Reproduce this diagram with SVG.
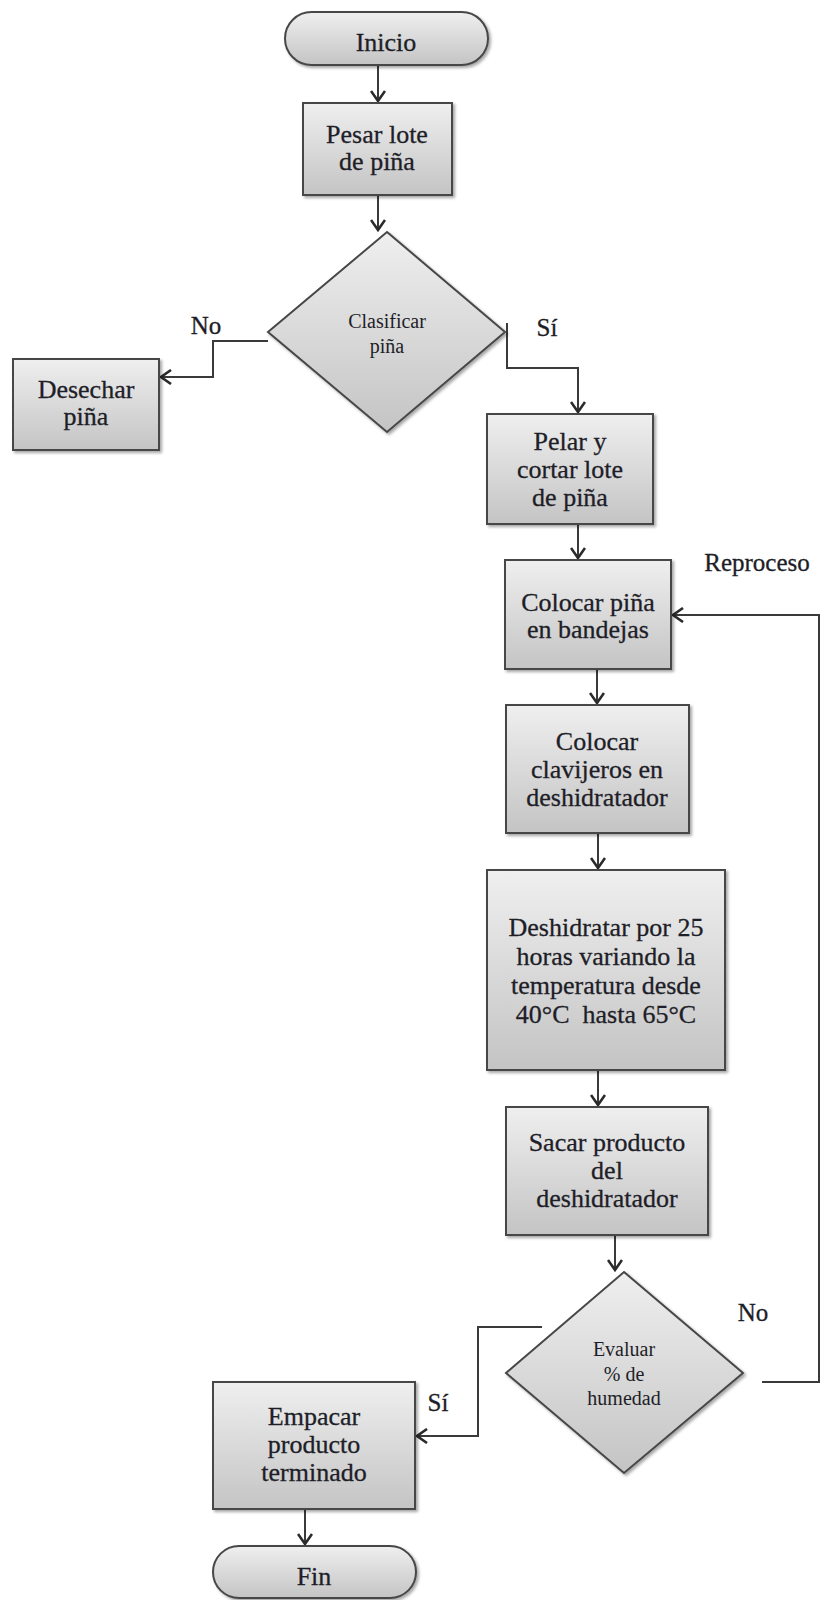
<svg xmlns="http://www.w3.org/2000/svg" width="820" height="1600" viewBox="0 0 820 1600">
<defs>
<linearGradient id="g" x1="0" y1="0" x2="0" y2="1">
<stop offset="0" stop-color="#efefef"/>
<stop offset="1" stop-color="#c4c4c4"/>
</linearGradient>
<filter id="sh" x="-10%" y="-10%" width="130%" height="130%">
<feDropShadow dx="2" dy="2" stdDeviation="1.5" flood-color="#000" flood-opacity="0.35"/>
</filter>
<marker id="arr" markerUnits="userSpaceOnUse" markerWidth="14" markerHeight="16" refX="11" refY="8" orient="auto">
<path d="M1,1 L11,8 L1,15" fill="none" stroke="#2a2a2a" stroke-width="2.6"/>
</marker>
</defs>
<style>
.shape{fill:url(#g);stroke:#474747;stroke-width:2;filter:url(#sh)}
.t{font-family:"Liberation Serif","Times New Roman",serif;font-size:26px;fill:#1e1e28;text-anchor:middle;stroke:#1e1e28;stroke-width:0.3}
.s{font-family:"Liberation Serif","Times New Roman",serif;font-size:20px;fill:#1e1e28;text-anchor:middle}
.lbl{font-family:"Liberation Serif","Times New Roman",serif;font-size:25px;fill:#1e1e28;text-anchor:middle;stroke:#1e1e28;stroke-width:0.3}
.ca{fill:none;stroke:#3a3a3a;stroke-width:2;marker-end:url(#arr)}
.pre{white-space:pre}
</style>
<rect width="820" height="1600" fill="#fff"/>
<g id="connectors">
<path class="ca" d="M378,65 V101"/>
<path class="ca" d="M378,195 V230"/>
<path class="ca" d="M268,341 H213 V377 H161"/>
<path class="ca" d="M507,323 V368 H578 V412"/>
<path class="ca" d="M578,524 V558"/>
<path class="ca" d="M597,669 V703"/>
<path class="ca" d="M598,833 V868"/>
<path class="ca" d="M598,1070 V1105"/>
<path class="ca" d="M615,1235 V1270"/>
<path class="ca" d="M542,1327 H478 V1436 H417"/>
<path class="ca" d="M762,1382 H819 V615 H673"/>
<path class="ca" d="M305,1509 V1544"/>
<text class="lbl" x="206" y="334">No</text>
<text class="lbl" x="547" y="336">Sí</text>
<text class="lbl" x="757" y="571">Reproceso</text>
<text class="lbl" x="753" y="1321">No</text>
<text class="lbl" x="438" y="1411">Sí</text>
</g>
<g id="inicio">
<rect class="shape" x="285" y="12" width="203" height="53" rx="26.5"/>
<text class="t" x="386" y="51">Inicio</text>
</g>
<g id="pesar">
<rect class="shape" x="303" y="103" width="149" height="92"/>
<text class="t" x="377" y="143">Pesar lote</text>
<text class="t" x="377" y="170">de piña</text>
</g>
<g id="clasificar">
<polygon class="shape" points="387,232 505,332 387,432 268,332"/>
<text class="s" x="387" y="328">Clasificar</text>
<text class="s" x="387" y="353">piña</text>
</g>
<g id="desechar">
<rect class="shape" x="13" y="359" width="146" height="91"/>
<text class="t" x="86" y="398">Desechar</text>
<text class="t" x="86" y="425">piña</text>
</g>
<g id="pelar">
<rect class="shape" x="487" y="414" width="166" height="110"/>
<text class="t" x="570" y="450">Pelar y</text>
<text class="t" x="570" y="478">cortar lote</text>
<text class="t" x="570" y="506">de piña</text>
</g>
<g id="colocar-pina">
<rect class="shape" x="505" y="560" width="166" height="109"/>
<text class="t" x="588" y="611">Colocar piña</text>
<text class="t" x="588" y="638">en bandejas</text>
</g>
<g id="colocar-clavijeros">
<rect class="shape" x="506" y="705" width="183" height="128"/>
<text class="t" x="597" y="750">Colocar</text>
<text class="t" x="597" y="778">clavijeros en</text>
<text class="t" x="597" y="806">deshidratador</text>
</g>
<g id="deshidratar">
<rect class="shape" x="487" y="870" width="238" height="200"/>
<text class="t" x="606" y="936">Deshidratar por 25</text>
<text class="t" x="606" y="965">horas variando la</text>
<text class="t" x="606" y="994">temperatura desde</text>
<text class="t pre" x="606" y="1023">40°C  hasta 65°C</text>
</g>
<g id="sacar">
<rect class="shape" x="506" y="1107" width="202" height="128"/>
<text class="t" x="607" y="1151">Sacar producto</text>
<text class="t" x="607" y="1179">del</text>
<text class="t" x="607" y="1207">deshidratador</text>
</g>
<g id="evaluar">
<polygon class="shape" points="624,1272 743,1373 624,1473 506,1373"/>
<text class="s" x="624" y="1356">Evaluar</text>
<text class="s" x="624" y="1381">% de</text>
<text class="s" x="624" y="1405">humedad</text>
</g>
<g id="empacar">
<rect class="shape" x="213" y="1382" width="202" height="127"/>
<text class="t" x="314" y="1425">Empacar</text>
<text class="t" x="314" y="1453">producto</text>
<text class="t" x="314" y="1481">terminado</text>
</g>
<g id="fin">
<rect class="shape" x="213" y="1546" width="203" height="52" rx="26"/>
<text class="t" x="314" y="1585">Fin</text>
</g>
</svg>
